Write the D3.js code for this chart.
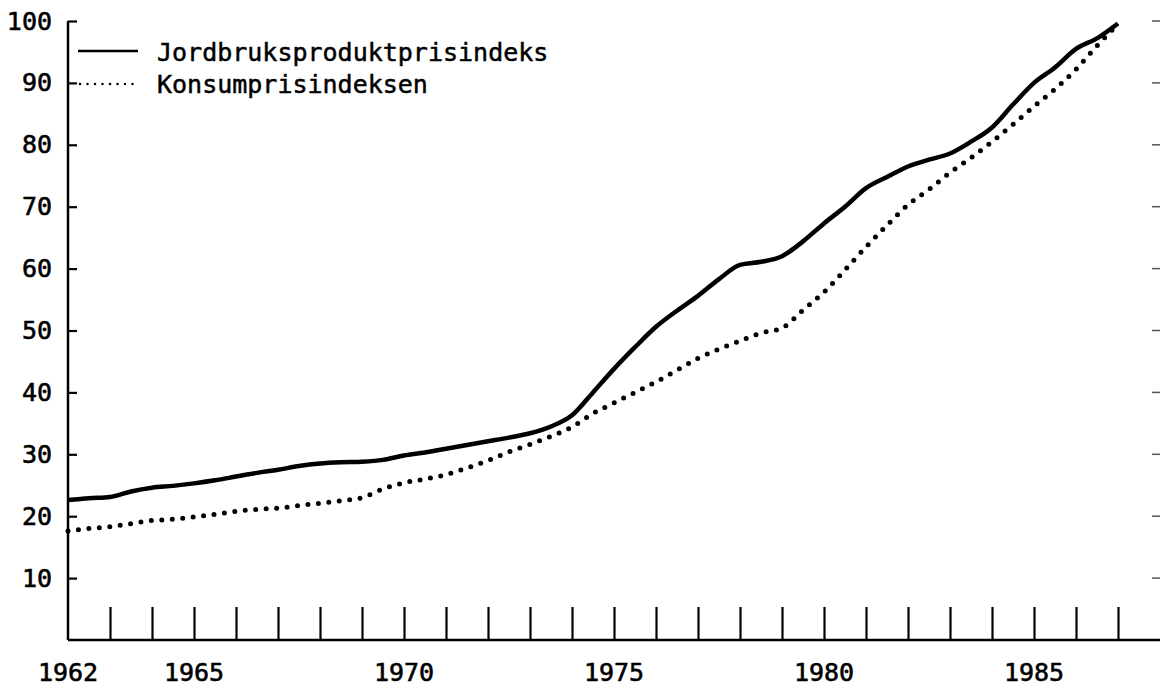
<!DOCTYPE html>
<html>
<head>
<meta charset="utf-8">
<script src="https://cdn.jsdelivr.net/npm/d3@7"></script>
<style>
  html, body { margin: 0; padding: 0; background: #fff; }
  svg { display: block; }
  text { font-family: "DejaVu Sans Mono", "Liberation Mono", monospace; fill: #000; }
</style>
</head>
<body>
<svg id="chart" width="1160" height="687"></svg>
<script>
// ---- Data ----
const years = [1962.0,1962.5,1963.0,1963.5,1964.0,1964.5,1965.0,1965.5,1966.0,1966.5,
  1967.0,1967.5,1968.0,1968.5,1969.0,1969.5,1970.0,1970.5,1971.0,1971.5,
  1972.0,1972.5,1973.0,1973.5,1974.0,1974.5,1975.0,1975.5,1976.0,1976.5,
  1977.0,1977.5,1978.0,1978.5,1979.0,1979.5,1980.0,1980.5,1981.0,1981.5,
  1982.0,1982.5,1983.0,1983.5,1984.0,1984.5,1985.0,1985.5,1986.0,1986.5,1987.0];

const jordbruk = [22.6,22.9,23.1,24.0,24.6,24.9,25.3,25.8,26.4,27.0,
  27.5,28.1,28.5,28.7,28.8,29.1,29.8,30.3,30.9,31.5,
  32.1,32.7,33.4,34.5,36.3,40.0,43.8,47.3,50.6,53.2,
  55.6,58.3,60.6,61.1,62.0,64.4,67.3,70.0,73.0,74.8,
  76.5,77.6,78.6,80.5,82.8,86.5,90.0,92.5,95.5,97.2,99.6];

const konsum = [17.6,18.0,18.3,18.8,19.3,19.5,19.9,20.3,20.8,21.1,
  21.3,21.7,22.1,22.5,23.0,24.4,25.4,26.0,26.7,27.8,
  29.0,30.4,31.6,32.9,34.4,36.6,38.3,40.0,41.7,43.6,
  45.5,47.0,48.3,49.6,50.4,53.3,56.2,59.8,63.5,67.0,
  70.3,72.8,75.5,77.9,80.5,83.3,86.2,89.0,92.2,96.0,99.5];

const seriesNames = ["Jordbruksproduktprisindeks", "Konsumprisindeksen"];
const yTickValues = [10,20,30,40,50,60,70,80,90,100];
const xTickYears = d3.range(1963, 1988);
const xLabelYears = [1962, 1965, 1970, 1975, 1980, 1985];

// ---- Layout ----
const svg = d3.select("#chart");
const x = d3.scaleLinear().domain([1962, 1987]).range([68, 1118]);
const y = d3.scaleLinear().domain([0, 100]).range([640, 21]);

// y axis line
svg.append("line").attr("x1", x(1962)).attr("x2", x(1962))
  .attr("y1", y(100)).attr("y2", y(0))
  .attr("stroke", "#000").attr("stroke-width", 2.5);

// y ticks (inside) and labels
const yAxis = d3.axisRight(y).tickValues(yTickValues).tickSize(9).tickFormat("");
const gy = svg.append("g").attr("transform", `translate(${x(1962)},0)`).call(yAxis);
gy.select(".domain").remove();
gy.selectAll(".tick line").attr("stroke", "#000").attr("stroke-width", 2.2);

svg.append("g").selectAll("text").data(yTickValues).join("text")
  .attr("x", 52).attr("y", d => y(d))
  .attr("text-anchor", "end").attr("dominant-baseline", "central")
  .attr("font-size", 25).attr("stroke", "#000").attr("stroke-width", 0.6)
  .text(d => d);

// right side small tick marks
svg.append("g").selectAll("line").data(yTickValues).join("line")
  .attr("x1", 1152).attr("x2", 1160).attr("y1", d => y(d)).attr("y2", d => y(d))
  .attr("stroke", "#555").attr("stroke-width", 1.5);

// x axis line
svg.append("line").attr("x1", x(1962)).attr("x2", 1160)
  .attr("y1", y(0)).attr("y2", y(0))
  .attr("stroke", "#000").attr("stroke-width", 2.5);

// x ticks (upward, inside)
const xAxis = d3.axisTop(x).tickValues(xTickYears).tickSize(33).tickFormat("");
const gx = svg.append("g").attr("transform", `translate(0,${y(0)})`).call(xAxis);
gx.select(".domain").remove();
gx.selectAll(".tick line").attr("stroke", "#000").attr("stroke-width", 2.2);

// x labels
svg.append("g").selectAll("text").data(xLabelYears).join("text")
  .attr("x", d => x(d)).attr("y", 681)
  .attr("text-anchor", "middle")
  .attr("font-size", 25).attr("stroke", "#000").attr("stroke-width", 0.6)
  .text(d => d);

// lines
const line = d3.line().x(d => x(d[0])).y(d => y(d[1])).curve(d3.curveMonotoneX);

svg.append("path").datum(years.map((yr, i) => [yr, konsum[i]]))
  .attr("d", line).attr("fill", "none").attr("stroke", "#000")
  .attr("stroke-width", 5).attr("stroke-linecap", "round")
  .attr("stroke-dasharray", "0 10.5");

svg.append("path").datum(years.map((yr, i) => [yr, jordbruk[i]]))
  .attr("d", line).attr("fill", "none").attr("stroke", "#000")
  .attr("stroke-width", 4.5).attr("stroke-linejoin", "round");

// legend
const leg = svg.append("g");
leg.append("line").attr("x1", 78).attr("x2", 138).attr("y1", 51).attr("y2", 51)
  .attr("stroke", "#000").attr("stroke-width", 2.5);
leg.append("line").attr("x1", 80).attr("x2", 136).attr("y1", 84).attr("y2", 84)
  .attr("stroke", "#000").attr("stroke-width", 2.5).attr("stroke-linecap", "round")
  .attr("stroke-dasharray", "0 7.5");
leg.selectAll("text").data(seriesNames).join("text")
  .attr("x", 157).attr("y", (d, i) => 61 + i * 32)
  .attr("font-size", 25).attr("stroke", "#000").attr("stroke-width", 0.5)
  .text(d => d);
</script>
</body>
</html>
